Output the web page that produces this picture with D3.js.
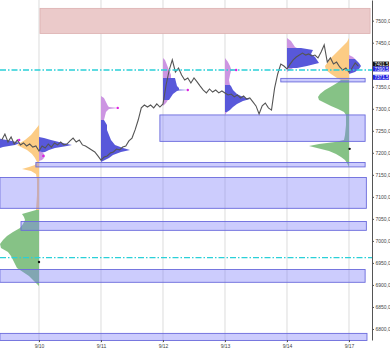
<!DOCTYPE html>
<html>
<head>
<meta charset="utf-8">
<script src="https://cdn.jsdelivr.net/npm/d3@7"></script>
<style>
  body { margin: 0; background: #fff; }
  text { font-family: "Liberation Sans", Arial, sans-serif; }
</style>
</head>
<body>
<div id="chart"></div>
<script>
// day labels, one gridline per session
const days = ["9/10", "9/11", "9/12", "9/13", "9/14", "9/17"];
const priceTicks = d3.range(6800, 7501, 50);

// price series, one value every 1/20 of a session starting at day -0.6
const priceStart = -0.6, priceStep = 0.05;
const prices = [7229, 7242.5, 7224.5, 7236, 7220, 7229, 7218, 7222.5, 7215.5, 7220,
  7213, 7215.5, 7204, 7215.5, 7211, 7220, 7213, 7222.5, 7218, 7224.5,
  7218, 7220, 7227, 7233.5, 7224.5, 7229, 7218, 7215.5, 7211, 7206.5,
  7202, 7193, 7183.5, 7190.5, 7193, 7199.5, 7202, 7208.5, 7206.5, 7213,
  7215.5, 7227, 7233.5, 7252, 7274.5, 7302, 7308.5, 7304, 7308.5, 7302,
  7311, 7304, 7311, 7354, 7388, 7411, 7383.5, 7392.5, 7376.5, 7365.5,
  7370, 7358.5, 7370, 7361, 7351.5, 7342.5, 7336, 7345, 7338, 7342.5,
  7336, 7340.5, 7336, 7331.5, 7333.5, 7327, 7331.5, 7324.5, 7329, 7322,
  7324.5, 7315.5, 7306.5, 7288, 7306.5, 7313, 7302, 7297, 7347, 7379,
  7401.5, 7397, 7390.5, 7401.5, 7411, 7417.5, 7422, 7426.5, 7422, 7424.5,
  7420, 7422, 7415.5, 7429, 7445, 7406, 7415.5, 7401.5, 7406, 7395,
  7388, 7392.5, 7383.5, 7392.5, 7404, 7397];

// session profiles: [price, count]
const prof0Blue = [[7242.5,0],[7238,9],[7231.5,12],[7227,17.5],[7222.5,21.5],[7218,19],[7213,13],[7206.5,7.5],[7202,0]];
const prof1Blue = [[7236,0],[7233.5,2.5],[7229,6],[7224.5,10],[7220,14],[7218,16.5],[7215.5,14],[7213,11],[7211,8],[7206.5,5],[7202,3],[7199.5,0]];
const prof1Out = [[7204,0],[7202,1.5],[7197.5,2.5],[7193,3],[7188,2.5],[7183.5,1.5],[7181.5,0]];
const prof2Top = [[7329,0],[7324.5,1.5],[7315.5,2.5],[7306.5,3.5],[7304,4],[7302,8.5],[7299.5,4],[7292.5,2.5],[7283.5,2],[7274.5,1.5]];
const prof2Blue = [[7274.5,1.5],[7263,3],[7252,3],[7240.5,4],[7229,5],[7218,7],[7211,11],[7206.5,14.5],[7202,10],[7195,6],[7188,4],[7183.5,2],[7179,0]];
const prof3Top = [[7415.5,0],[7411,1],[7399.5,2],[7388,3],[7376.5,4],[7370,4]];
const prof3Blue = [[7370,6],[7361,6.5],[7351.5,7],[7347,8],[7343.5,8],[7342.5,12.5],[7341.5,8],[7340.5,7],[7333.5,5],[7327,4],[7320,3]];
const prof3Bot = [[7320,2.5],[7313,1.5],[7306.5,0]];
const prof4Top = [[7415.5,0],[7406,1.5],[7397,2.5],[7390.5,3],[7388,5.5],[7386,3],[7376.5,2.5],[7365.5,2],[7354,2.5]];
const prof4Blue = [[7354,2.5],[7351.5,3],[7342.5,4],[7333.5,6],[7327,9],[7322,12.5],[7317.5,9],[7311,6],[7304,4],[7297,2.5],[7292.5,1]];
const prof4Bot = [[7292.5,1],[7286,0]];
const prof5Top = [[7460.5,0],[7454,2],[7447,3],[7440.5,4],[7438,5]];
const prof5Blue = [[7438,7],[7433.5,13],[7424.5,12],[7417.5,14],[7411,15],[7404,16],[7397,10],[7392.5,5]];
const prof5Bot = [[7392.5,3],[7388,1.5],[7383.5,0]];
const prof6Top = [[7422,0],[7417.5,2],[7413,3]];
const prof6Blue = [[7413,3],[7411,3.5],[7404,5],[7397,6],[7390.5,5],[7383.5,3],[7379,0]];

// composite profiles drawn to the left of a session line
const compLeftOrange = [[7263,0],[7252,2],[7240.5,4],[7229,7],[7222.5,9.5],[7218,11],[7213,9],[7206.5,6],[7197.5,3.5],[7188,2],[7179,1],[7172.5,2],[7168,5],[7163.5,8.5],[7159,4],[7152,1.5],[7138.5,1],[7104,1],[7070,1.5]];
const compLeftGreen = [[7070,1.5],[7065.5,5],[7061,8.5],[7054.5,7.5],[7047.5,7],[7038.5,8],[7029.5,9.5],[7020,13],[7011,16],[7002,18],[6993,19.5],[6984,19],[6975,15.5],[6965.5,14],[6956.5,13],[6947.5,12],[6938.5,11],[6929.5,8],[6920.5,5],[6911,3],[6904.5,1.5],[6897.5,0]];
const compRightOrange = [[7460.5,0],[7451.5,1],[7442.5,3],[7433.5,5],[7424.5,7],[7415.5,9],[7406,10.5],[7397,12],[7388,11.5],[7379,9],[7370,6],[7365.5,4]];
const compRightGreen = [[7365.5,4],[7358.5,6],[7351.5,8.5],[7342.5,12],[7333.5,14.5],[7327,15.5],[7320,15],[7313,12],[7306.5,9],[7299.5,5.5],[7292.5,2.5],[7286,1.5],[7263,1.5],[7240.5,2],[7229,2.5],[7224.5,7],[7220,15],[7215.5,20],[7211,16],[7204,10],[7197.5,6.5],[7190.5,4],[7183.5,2],[7177,1],[7168,0]];

// zones: [fromDay, toDay, low, high]
const zones = [[1.95,5.26,7226,7286],[3.9,5.26,7361,7369],[-0.05,5.26,7168,7178],
  [-0.63,5.28,7074,7144],[-0.29,5.28,7024,7044],[-0.63,5.26,6906,6935],[-0.63,5.29,6774,6790]];
const resistZone = [0.016, 5.34, 7471, 7528];
const levels = [7388, 6962];
const tipDots = [[-0.32,7229],[0.07,7193],[1.27,7302],[2.4,7342.5],[3.18,7388]];
const pocDots = [[0,6952],[5.01,7209]];
const priceTags = [[7401.5,"#111"],[7390.5,"#2424e0"],[7371.5,"#2424e0"]];

const W = 390, H = 350, right = 372, bottom = 340;

const svg = d3.select("#chart").append("svg")
  .attr("width", W).attr("height", H);

const x = d3.scaleLinear().domain([-0.629, 5.371]).range([0, right]);
const y = d3.scaleLinear().domain([6775, 7547]).range([bottom, 0]);
const w = d3.scaleLinear().domain([0, 31]).range([0, 62]);

// gridlines
svg.append("g").selectAll("line")
  .data(days)
  .join("line")
  .attr("x1", (d, i) => x(i)).attr("x2", (d, i) => x(i))
  .attr("y1", 0).attr("y2", bottom + 3)
  .attr("stroke", "#dcdcdc");

// resistance zone
svg.append("rect")
  .attr("x", x(resistZone[0])).attr("width", x(resistZone[1]) - x(resistZone[0]))
  .attr("y", y(resistZone[3])).attr("height", y(resistZone[2]) - y(resistZone[3]))
  .attr("fill", "#ebcaca").attr("stroke", "#dcb0b0").attr("stroke-width", 0.8);

// profiles
const colors = { blue: "#4646d6", out: "#c98fe0", orange: "#fcc97e", green: "#80bf80" };
const profiles = [
  { day: -1, dir: 1, rows: prof0Blue, c: "blue" },
  { day: 0, dir: -1, rows: compLeftOrange, c: "orange" },
  { day: 0, dir: -1, rows: compLeftGreen, c: "green" },
  { day: 5, dir: -1, rows: compRightOrange, c: "orange" },
  { day: 5, dir: -1, rows: compRightGreen, c: "green" },
  { day: 0, dir: 1, rows: prof1Blue, c: "blue" },
  { day: 0, dir: 1, rows: prof1Out, c: "out" },
  { day: 1, dir: 1, rows: prof2Top, c: "out" },
  { day: 1, dir: 1, rows: prof2Blue, c: "blue" },
  { day: 2, dir: 1, rows: prof3Top, c: "out" },
  { day: 2, dir: 1, rows: prof3Blue, c: "blue" },
  { day: 2, dir: 1, rows: prof3Bot, c: "out" },
  { day: 3, dir: 1, rows: prof4Top, c: "out" },
  { day: 3, dir: 1, rows: prof4Blue, c: "blue" },
  { day: 3, dir: 1, rows: prof4Bot, c: "out" },
  { day: 4, dir: 1, rows: prof5Top, c: "out" },
  { day: 4, dir: 1, rows: prof5Blue, c: "blue" },
  { day: 4, dir: 1, rows: prof5Bot, c: "out" },
  { day: 5, dir: 1, rows: prof6Top, c: "out" },
  { day: 5, dir: 1, rows: prof6Blue, c: "blue" }
];

const gp = svg.append("g");
profiles.forEach(p => {
  const area = d3.area()
    .y(d => y(d[0]))
    .x0(x(p.day))
    .x1(d => x(p.day) + p.dir * w(d[1]));
  gp.append("path")
    .datum(p.rows)
    .attr("d", area)
    .attr("fill", colors[p.c])
    .attr("fill-opacity", p.c == "blue" ? 0.9 : 0.95);
});

// zones
svg.append("g").selectAll("rect")
  .data(zones)
  .join("rect")
  .attr("x", d => x(d[0]))
  .attr("width", d => x(d[1]) - x(d[0]))
  .attr("y", d => y(d[3]))
  .attr("height", d => y(d[2]) - y(d[3]))
  .attr("fill", "rgb(120,120,250)").attr("fill-opacity", 0.38)
  .attr("stroke", "#6a6adc").attr("stroke-width", 0.9);

// price
const line = d3.line()
  .x((d, i) => x(priceStart + i * priceStep))
  .y(d => y(d));
svg.append("path")
  .datum(prices)
  .attr("d", line)
  .attr("fill", "none")
  .attr("stroke", "#555")
  .attr("stroke-width", 1.1);

// levels
svg.append("g").selectAll("line")
  .data(levels)
  .join("line")
  .attr("x1", 0).attr("x2", right)
  .attr("y1", d => y(d)).attr("y2", d => y(d))
  .attr("stroke", "#2ad0d8").attr("stroke-width", 1.4)
  .attr("stroke-dasharray", "6,2,1.5,2");

svg.append("g").selectAll("circle")
  .data(tipDots)
  .join("circle")
  .attr("cx", d => x(d[0])).attr("cy", d => y(d[1])).attr("r", 1.2)
  .attr("fill", "#e020e0");

svg.append("g").selectAll("circle")
  .data(pocDots)
  .join("circle")
  .attr("cx", d => x(d[0])).attr("cy", d => y(d[1])).attr("r", 1.2)
  .attr("fill", "#111");

// right axis (the 7400 label sits under the price tags)
const fmt = d => d3.format(".1f")(d).replace(".", ",");
const ya = svg.append("g")
  .attr("transform", `translate(${right},0)`)
  .call(d3.axisRight(y).tickValues(priceTicks).tickSize(2).tickSizeOuter(0)
    .tickFormat(d => d === 7400 ? "" : fmt(d)));
ya.select(".domain").attr("stroke", "#555");
ya.selectAll(".tick line").attr("stroke", "#555");
ya.selectAll("text").attr("font-size", 5).attr("fill", "#444").attr("x", 3.5);

// price tags
const tags = svg.append("g").selectAll("g")
  .data(priceTags)
  .join("g")
  .attr("transform", d => `translate(${right + 1},${y(d[0])})`);
tags.append("rect")
  .attr("x", 0).attr("y", -2.5).attr("width", 16).attr("height", 5)
  .attr("fill", d => d[1]);
tags.append("text")
  .attr("x", 1.5).attr("y", 1.6)
  .attr("font-size", 4.6).attr("fill", "#fff")
  .text(d => fmt(d[0]));

// bottom axis
const xa = svg.append("g")
  .attr("transform", `translate(0,${bottom})`)
  .call(d3.axisBottom(x).tickValues(d3.range(days.length)).tickSize(2).tickFormat(i => days[i]));
xa.select(".domain").remove();
xa.selectAll(".tick line").attr("stroke", "#555");
xa.selectAll("text").attr("font-size", 5).attr("fill", "#444").attr("dy", "0.5em");
</script>
</body>
</html>
